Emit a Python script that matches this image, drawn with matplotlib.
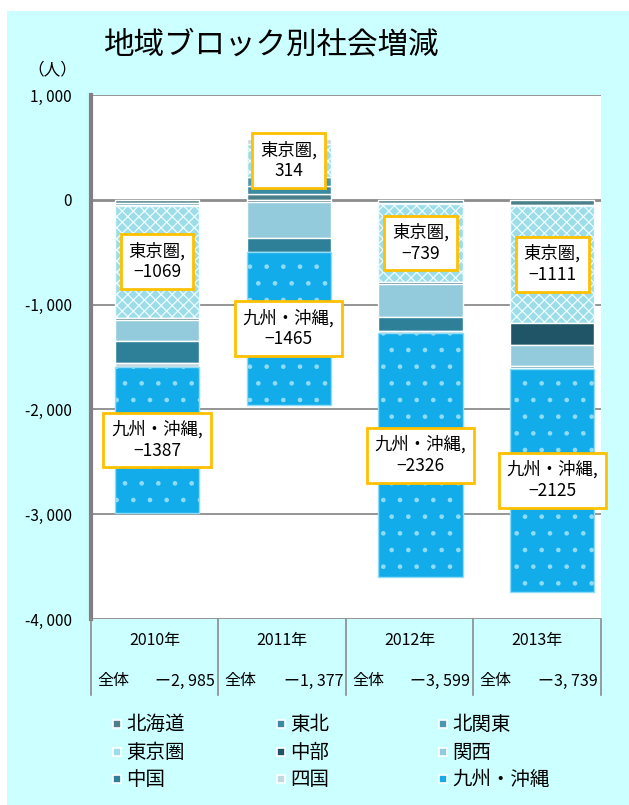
import matplotlib.pyplot as plt
from matplotlib.patches import Rectangle
from matplotlib.lines import Line2D

plt.rcParams['font.family'] = ['Noto Sans CJK JP', 'DejaVu Sans']
plt.rcParams['hatch.linewidth'] = 0.9

W, H = 629, 805

# net migration by region block (persons)
years = ['2010年', '2011年', '2012年', '2013年']
totals = [-2985, -1377, -3599, -3739]
regions = ['北海道', '東北', '北関東', '東京圏', '中部', '関西', '中国', '四国', '九州・沖縄']
hokkaido = [-35, 60, -35, -45]
tohoku = [-10, 70, -5, -10]
kitakanto = [-10, 89, -3, -5]
tokyo = [-1069, 314, -739, -1111]
chubu = [-20, -25, -25, -215]
kansai = [-200, -340, -310, -200]
chugoku = [-215, -130, -136, -18]
shikoku = [-39, 50, -20, -10]
kyushu = [-1387, -1465, -2326, -2125]
series = [hokkaido, tohoku, kitakanto, tokyo, chubu, kansai, chugoku, shikoku, kyushu]
labelled = ['東京圏', '九州・沖縄']

colors = ['#4b7f8a', '#3a8aa0', '#4a98b0', '#9cdde8', '#1f5566',
          '#93cbdc', '#2e7f98', '#c3d8e0', '#12acea']
hatches = [None, None, None, 'xxx', None, None, None, None, '.']
edges = ['white', 'white', 'white', '#eefcff', 'white', 'white', 'white', 'white', '#8fdcf6']

fig = plt.figure(figsize=(W / 100, H / 100), dpi=100, facecolor='white')
fig.patches.append(Rectangle((7 / W, 0), 1, 1 - 11 / H, transform=fig.transFigure,
                             facecolor='#ccffff', edgecolor='none', zorder=-10))


def px(x, y):
    return x / W, 1 - y / H


ax = fig.add_axes([91 / W, 1 - 619 / H, (601 - 91) / W, (619 - 95) / H])
ax.set_facecolor('white')
ax.set_ylim(-4000, 1000)
ax.set_xlim(-0.5, 3.37)
ax.set_yticks(range(-4000, 1001, 1000))
ax.set_yticklabels([f"{v:,}".replace(",", ", ") for v in range(-4000, 1001, 1000)],
                   fontsize=11)
ax.set_xticks([])
for s in ['top', 'right', 'bottom']:
    ax.spines[s].set_visible(False)
ax.spines['left'].set_color('#808080')
ax.spines['left'].set_linewidth(3)
ax.tick_params(axis='y', length=0, pad=14)
for v in range(-4000, 1001, 1000):
    ax.axhline(v, color='#8c8c8c', lw=2 if v == 0 else 1.3, zorder=0)

xs = range(len(years))
pos = [0] * len(years)
neg = [0] * len(years)
for name, vals, c, h, ec in zip(regions, series, colors, hatches, edges):
    bottoms = [p if v >= 0 else n for v, p, n in zip(vals, pos, neg)]
    ax.bar(xs, vals, bottom=bottoms, width=0.64, color=c, hatch=h,
           edgecolor=ec, linewidth=1, zorder=2)
    if name in labelled:
        for x, v, b in zip(xs, vals, bottoms):
            txt = f"{name},\n{v}".replace('-', '−')
            ax.text(x, b + v / 2, txt, ha='center', va='center', fontsize=12.5,
                    multialignment='center', zorder=5, clip_on=False,
                    bbox=dict(boxstyle='square,pad=0.45', fc='white',
                              ec='#ffc000', lw=2))
    pos = [p + v if v >= 0 else p for v, p in zip(vals, pos)]
    neg = [n + v if v < 0 else n for v, n in zip(vals, neg)]

fig.text(*px(52, 70), '（人）', ha='center', va='center', fontsize=12)
fig.text(*px(104, 45), '地域ブロック別社会増減', ha='left', va='center', fontsize=22)

# table under the plot: year row and total row
cols = [91, 218, 346, 473, 601]
for x in cols:
    fig.add_artist(Line2D([x / W, x / W], [1 - 619 / H, 1 - 695 / H],
                          color='#8c8c8c', lw=1.2))
for i, (yr, tot) in enumerate(zip(years, totals)):
    l, r = cols[i], cols[i + 1]
    fig.text(*px((l + r) / 2, 640), yr, ha='center', va='center', fontsize=11.5)
    fig.text(*px(l + 6, 681), '全体', ha='left', va='center', fontsize=11.5)
    fig.text(*px(r - 3, 681), f"{tot:,}".replace(",", ", ").replace('-', 'ー'),
             ha='right', va='center', fontsize=11.5)

# legend, filled row by row
for i, (name, c) in enumerate(zip(regions, colors)):
    x = [117, 281, 443][i % 3]
    y = [724, 752, 779][i // 3]
    fig.patches.append(Rectangle(px(x - 4, y + 4), 8 / W, 8 / H, transform=fig.transFigure,
                                 facecolor=c, edgecolor='white', lw=1.2))
    fig.text(*px(x + 9, y), name, ha='left', va='center', fontsize=14)

fig.savefig('out.png', dpi=100, facecolor=fig.get_facecolor())
